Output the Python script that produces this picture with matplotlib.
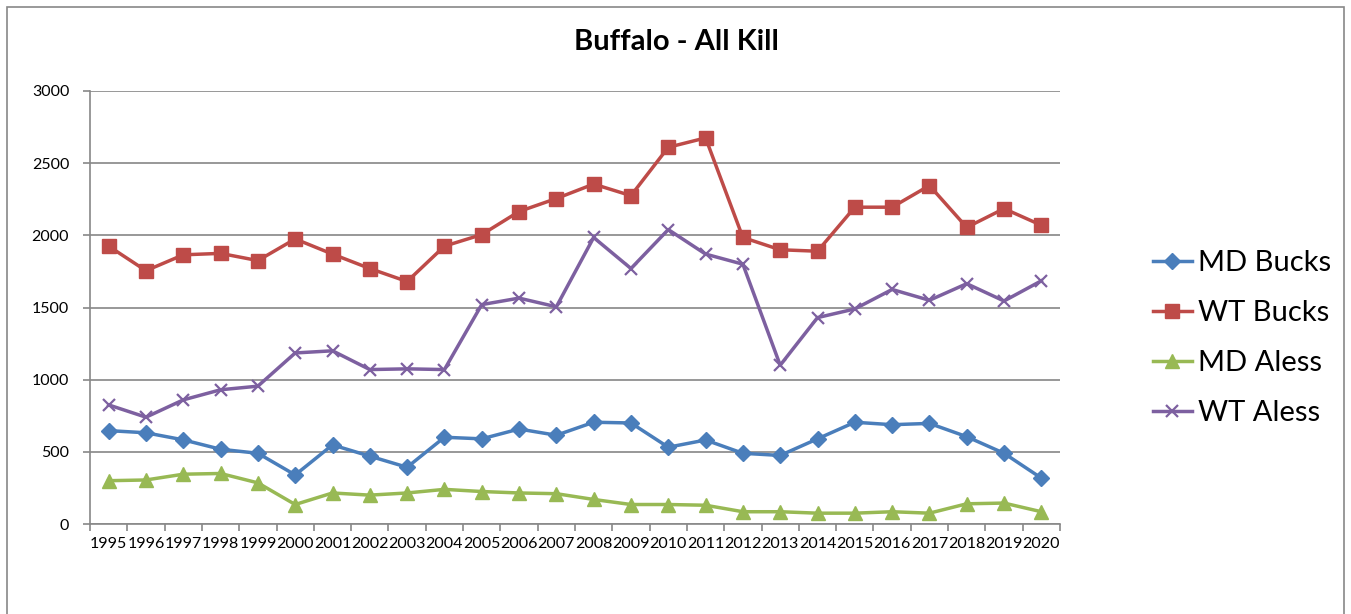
import matplotlib
matplotlib.use('Agg')
import matplotlib.pyplot as plt
from matplotlib.patches import Rectangle

# Datos
years = [str(y) for y in range(1995, 2021)]
md_bucks = [647, 632, 583, 518, 490, 340, 548, 470, 393, 601, 590, 658, 615,
            705, 700, 532, 582, 490, 475, 590, 705, 688, 697, 605, 490, 318]
wt_bucks = [1925, 1755, 1865, 1875, 1825, 1975, 1870, 1770, 1680, 1925, 2005,
            2165, 2255, 2355, 2275, 2610, 2675, 1985, 1900, 1890, 2195, 2195,
            2345, 2055, 2185, 2070]
md_aless = [300, 305, 345, 350, 285, 135, 215, 200, 215, 240, 225, 215, 210,
            170, 135, 135, 130, 85, 85, 75, 75, 85, 75, 140, 145, 85]
wt_aless = [825, 740, 860, 930, 955, 1185, 1200, 1070, 1075, 1070, 1520, 1565,
            1505, 1985, 1770, 2040, 1870, 1800, 1100, 1430, 1490, 1625, 1550,
            1665, 1545, 1685]
y_ticks = [0, 500, 1000, 1500, 2000, 2500, 3000]

plt.rcParams['font.family'] = ['Lato', 'DejaVu Sans']

fig = plt.figure(figsize=(13.51, 6.14), dpi=100)
# marco gris del gráfico (como en Excel)
fig.patches.append(Rectangle((7 / 1351, -0.1), (1344 - 7) / 1351, 1.1 - 7 / 614,
                             transform=fig.transFigure, fill=False,
                             edgecolor='#888888', linewidth=1.2))

ax = fig.add_axes([90 / 1351, 1 - 524 / 614, (1060 - 90) / 1351, (524 - 91) / 614])

x = list(range(len(years)))
ax.plot(x, md_bucks, color='#4A7EBB', lw=2.5, marker='D', ms=8, label='MD Bucks')
ax.plot(x, wt_bucks, color='#BE4B48', lw=2.5, marker='s', ms=10, label='WT Bucks')
ax.plot(x, md_aless, color='#98B954', lw=2.5, marker='^', ms=10, label='MD Aless')
ax.plot(x, wt_aless, color='#7D60A0', lw=2.5, marker='x', ms=9, mew=1.6, label='WT Aless')

ax.set_xlim(-0.5, len(years) - 0.5)
ax.set_ylim(0, 3000)
ax.set_yticks(y_ticks)
ax.set_xticks(x)
ax.set_xticklabels(years)
ax.set_xticks([i - 0.5 for i in range(len(years) + 1)], minor=True)
ax.tick_params(axis='x', which='major', length=0, labelsize=11.5, pad=9)
ax.tick_params(axis='x', which='minor', length=5, color='#888888', width=1.2)
ax.tick_params(axis='y', length=5, color='#888888', width=1.2, labelsize=11.5, pad=10)

ax.grid(axis='y', color='#868686', linewidth=1.2)
ax.set_axisbelow(True)
for s in ['top', 'right']:
    ax.spines[s].set_visible(False)
for s in ['left', 'bottom']:
    ax.spines[s].set_color('#888888')
    ax.spines[s].set_linewidth(1.2)

fig.text(676 / 1351, 1 - 42 / 614, 'Buffalo - All Kill', ha='center', va='center',
         fontsize=21, fontweight='bold')

fig.legend(loc='center left', bbox_to_anchor=(1141 / 1351, 1 - 338 / 614),
           frameon=False, fontsize=21, handlelength=1.35, handletextpad=0.2,
           labelspacing=0.82, borderaxespad=0)

plt.savefig('out.png', dpi=100)
